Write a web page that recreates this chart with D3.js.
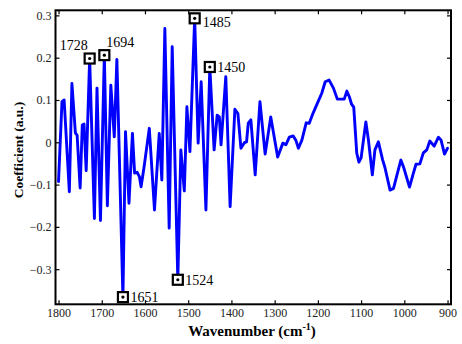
<!DOCTYPE html>
<html><head><meta charset="utf-8">
<script src="https://cdn.jsdelivr.net/npm/d3@7"></script>
<style>
html,body{margin:0;padding:0;background:#fff;}
svg{display:block;}
svg text{font-family:"Liberation Serif","Times New Roman",Times,"DejaVu Serif",serif !important;fill:#000;}
</style></head>
<body>
<svg id="chart" width="462" height="344"></svg>
<script>
// Wavenumber (cm-1) and regression coefficient
const wavenumbers = [1800,1792,1787,1775,1769,1761,1757,1750,1745,1741,
1736,1728,1717,1711,1703,1694,1687,1679,1671,1665,
1651,1645,1637,1629,1624,1618,1613,1609,1602,1590,
1578,1567,1561,1554,1544,1537,1524,1517,1509,1503,
1496,1485,1477,1470,1459,1450,1440,1433,1428,1424,
1413,1403,1392,1385,1378,1370,1365,1361,1355,1345,
1334,1322,1309,1293,1281,1274,1266,1257,1251,1245,
1237,1227,1220,1211,1203,1191,1183,1174,1164,1155,
1145,1139,1133,1127,1122,1117,1110,1105,1100,1089,
1083,1074,1068,1060,1050,1045,1033,1025,1018,1008,
1001,988,979,973,964,956,948,941,931,921,
915,907,900];
const coefficients = [-0.093,0.096,0.100,-0.117,0.139,0.022,0.017,-0.108,0.041,0.043,
-0.067,0.198,-0.180,0.128,-0.185,0.206,-0.150,0.135,0.013,0.196,
-0.366,0.025,-0.144,0.021,-0.073,-0.071,-0.081,-0.105,-0.058,0.033,
-0.160,0.021,-0.089,0.269,-0.203,0.226,-0.325,-0.018,-0.115,0.084,
-0.022,0.293,-0.002,0.143,-0.160,0.178,-0.018,0.064,0.060,-0.006,
0.155,-0.152,0.078,0.068,-0.014,-0.001,0.001,0.045,0.053,-0.077,
0.096,-0.028,0.060,-0.035,-0.002,-0.006,0.012,0.015,0.005,-0.014,
0.005,0.046,0.045,0.069,0.088,0.116,0.143,0.147,0.128,0.102,
0.102,0.102,0.121,0.107,0.090,0.083,-0.026,-0.047,-0.037,0.048,
0.005,-0.077,-0.018,0.001,-0.042,-0.059,-0.113,-0.109,-0.081,-0.042,
-0.061,-0.106,-0.073,-0.052,-0.051,-0.025,-0.018,0.003,-0.009,0.012,
0.005,-0.028,-0.014];
const markedPeaks = [1728,1694,1651,1524,1485,1450];
const markedLabels = ["1728","1694","1651","1524","1485","1450"];
const xTicks = [1800,1700,1600,1500,1400,1300,1200,1100,1000,900];
const yTicks = [-0.3,-0.2,-0.1,0,0.1,0.2,0.3];
const xTitle = "Wavenumber (cm";
const xTitleSup = "-1";
const yTitle = "Coefficient (a.u.)";

const svg = d3.select("#chart");
const L = 55.5, R = 451, T = 10.3, B = 304.3;
const x = d3.scaleLinear().domain([1807, 892]).range([L, R]);
const y = d3.scaleLinear().domain([-0.383, 0.312]).range([B, T]);

const data = wavenumbers.map((w,i)=>({w, v:coefficients[i]}));

// line
svg.append("path").datum(data)
  .attr("fill","none").attr("stroke","#0000ff").attr("stroke-width",2.9)
  .attr("stroke-linejoin","round").attr("stroke-linecap","round")
  .attr("d", d3.line().x(d=>x(d.w)).y(d=>y(d.v)));

// axes
const tl = 4;
const gB = svg.append("g").attr("transform",`translate(0,${B})`)
  .call(d3.axisBottom(x).tickValues(xTicks).tickSizeInner(-tl).tickSizeOuter(0).tickPadding(4).tickFormat(d3.format("d")));
const gT = svg.append("g").attr("transform",`translate(0,${T})`)
  .call(d3.axisTop(x).tickValues(xTicks).tickSizeInner(-tl).tickSizeOuter(0).tickFormat(""));
const gL = svg.append("g").attr("transform",`translate(${L},0)`)
  .call(d3.axisLeft(y).tickValues(yTicks).tickSizeInner(-tl).tickSizeOuter(0).tickPadding(4)
    .tickFormat(d=> d===0 ? "0" : d3.format(".1f")(d)));
const gR = svg.append("g").attr("transform",`translate(${R},0)`)
  .call(d3.axisRight(y).tickValues(yTicks).tickSizeInner(-tl).tickSizeOuter(0).tickFormat(""));
[gB,gT,gL,gR].forEach(g=>{
  g.attr("font-family",null);
  g.select(".domain").remove();
  g.selectAll(".tick line").attr("stroke","#000").attr("stroke-width",1.2);
  g.selectAll(".tick text").attr("font-size",12).style("fill","#222");
});
svg.append("rect").attr("x",L).attr("y",T).attr("width",R-L).attr("height",B-T)
  .attr("fill","none").attr("stroke","#000").attr("stroke-width",2);

// markers
const peakData = markedPeaks.map((w,i)=>({w, v:coefficients[wavenumbers.indexOf(w)], label:markedLabels[i]}));
const ms = 10;
const mg = svg.append("g");
peakData.forEach(p=>{
  const cx = x(p.w), cy = y(p.v);
  mg.append("rect").attr("x",cx-ms/2).attr("y",cy-ms/2).attr("width",ms).attr("height",ms)
    .attr("fill","#fff").attr("stroke","#000").attr("stroke-width",2.2);
  mg.append("circle").attr("cx",cx).attr("cy",cy).attr("r",1.6).attr("fill","#000");
  let tx, ty, anchor="start";
  if (p.label==="1728"){ tx=cx-2; ty=cy-8.5; anchor="end"; }
  else if (p.label==="1694"){ tx=cx+2; ty=cy-8; }
  else if (p.label==="1485"){ tx=cx+8; ty=cy+8.5; }
  else { tx=cx+7.5; ty=cy+5; }
  mg.append("text").attr("x",tx).attr("y",ty).attr("text-anchor",anchor)
    .attr("font-size",14).text(p.label);
});

// titles
const xt = svg.append("text").attr("x",252).attr("y",336)
  .attr("text-anchor","middle").attr("font-size",15).attr("font-weight","bold");
xt.append("tspan").text(xTitle);
xt.append("tspan").attr("dy",-6).attr("font-size",10).text(xTitleSup);
xt.append("tspan").attr("dy",6).text(")");

svg.append("text").attr("transform",`translate(23,150) rotate(-90)`)
  .attr("text-anchor","middle").attr("font-size",13.5).attr("font-weight","bold").text(yTitle);
</script>
</body></html>
